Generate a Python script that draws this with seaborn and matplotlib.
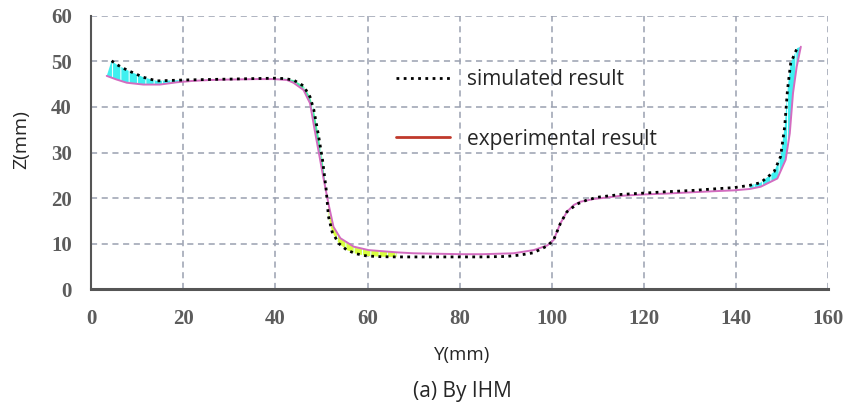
import numpy as np
import pandas as pd
import seaborn as sns
import matplotlib.pyplot as plt

# simulated result (black dotted)
sim_y = [4.4, 5.5, 7.7, 9.5, 11.3, 14.2, 17, 20, 25, 30, 35, 40, 42, 43.9, 46.1, 47.5, 48.3, 49.3,
         50.2, 51.0, 51.5, 52.3, 53.7, 55.5, 57.5, 59.9, 63, 66.4, 70, 75, 80, 85, 90, 93, 96, 99,
         100.4, 101.9, 103.3, 105.5, 107.7, 110, 115, 120, 125, 130.9, 135, 139.6, 143, 145.4,
         148.3, 149.7, 150.6, 151.2, 151.9, 153.3]
sim_z = [50.1, 49.3, 48.1, 47.3, 46.5, 45.7, 45.8, 45.9, 46.0, 46.1, 46.2, 46.3, 46.2, 45.9, 44.6,
         42.2, 39.5, 34.0, 28.5, 22.0, 16.0, 12.6, 10.1, 8.6, 7.8, 7.3, 7.15, 7.1, 7.1, 7.1, 7.1,
         7.1, 7.2, 7.5, 8.0, 9.5, 10.8, 14.5, 17.0, 18.7, 19.6, 20.2, 20.8, 21.1, 21.4, 21.7, 22.0,
         22.3, 22.8, 23.4, 25.8, 29.1, 35.7, 43.7, 49.6, 52.9]

# experimental result (pink line)
exp_y = [3.35, 5.5, 7.7, 11.3, 14.9, 18.6, 22, 25.8, 30, 33.1, 36, 39.6, 42.5, 43.9, 46.1, 47.5,
         48.5, 49.5, 50.4, 51.5, 52.6, 54.1, 57.0, 60.2, 66.4, 70, 75, 80.2, 85, 91.7, 96.1, 99.0,
         100.4, 101.9, 103.3, 104.8, 106.2, 109.1, 115, 120, 125, 130.9, 135, 139.6, 143, 145.4,
         149.0, 150.8, 151.7, 152.4, 153.2, 154.1]
exp_z = [46.8, 46.0, 45.3, 44.9, 44.9, 45.4, 45.7, 45.9, 46.0, 46.05, 46.1, 46.1, 45.9, 45.3, 43.7,
         40.8, 35.0, 29.5, 24.5, 18.8, 13.7, 11.2, 9.35, 8.6, 8.1, 7.9, 7.8, 7.7, 7.7, 7.9, 8.6, 9.6,
         10.8, 14.5, 17.0, 18.5, 19.2, 19.8, 20.5, 20.8, 21.0, 21.3, 21.5, 21.7, 22.0, 22.5, 24.3,
         28.4, 34.2, 43.0, 48.8, 53.2]

# shaded gaps between the two curves: (from Y, to Y, colour)
gaps = [(0, 22, "#3ff0f0"), (40, 51.2, "#40f0a0"), (51.2, 68, "#d8ff40"), (140, 160, "#3ff0f0")]

sim = pd.DataFrame({"Y": sim_y, "Z": sim_z})
exp = pd.DataFrame({"Y": exp_y, "Z": exp_z})

sns.set_style("white")
plt.rcParams["hatch.linewidth"] = 0.8

fig = plt.figure(figsize=(8.59, 4.11), dpi=100)
ax = fig.add_axes([0.1063, 0.2961, 0.8576, 0.6657])

for lo, hi, col in gaps:
    s = sim[(sim.Y >= lo) & (sim.Y < hi)]
    e = exp[(exp.Y >= lo) & (exp.Y < hi)]
    px = np.concatenate([s.Y.values, e.Y.values[::-1]])
    py = np.concatenate([s.Z.values, e.Z.values[::-1]])
    ax.fill(px, py, facecolor=col, edgecolor="#e8ffff", hatch="||", linewidth=0.01, zorder=2)

sns.lineplot(data=exp, x="Y", y="Z", ax=ax, color="#d36cc0", linewidth=1.4,
             estimator=None, label="experimental result", zorder=3)
sns.lineplot(data=sim, x="Y", y="Z", ax=ax, color="black", linewidth=2.0,
             linestyle=(0, (1, 1.6)), estimator=None, label="simulated result", zorder=4)

ax.set_xlim(0, 160)
ax.set_ylim(0, 60)
ax.set_xticks(np.arange(0, 161, 20))
ax.set_yticks(np.arange(0, 61, 10))
ax.grid(True, color="#9aa0b0", linestyle=(0, (4, 3)), linewidth=1.1)
for s in ["top", "right"]:
    ax.spines[s].set_visible(False)
for s in ["left", "bottom"]:
    ax.spines[s].set_color("#555555")
ax.spines["left"].set_linewidth(1.5)
ax.spines["bottom"].set_linewidth(2.2)
ax.tick_params(length=0, pad=14)
for t in ax.get_xticklabels() + ax.get_yticklabels():
    t.set_fontfamily("Liberation Serif")
    t.set_fontweight("bold")
    t.set_fontsize(15)
    t.set_color("#5c5c5c")
ax.set_xlabel("")
ax.set_ylabel("")

h, l = ax.get_legend_handles_labels()
leg = ax.legend([h[1], h[0]], [l[1], l[0]], loc="upper left", bbox_to_anchor=(0.414, 0.805),
                frameon=False, prop={"family": "Open Sans", "size": 15}, borderpad=0,
                borderaxespad=0, handlelength=2.6, handletextpad=0.8, labelspacing=1.85)
leg.legend_handles[1].set_color("#c0392b")
leg.legend_handles[1].set_linewidth(2.0)

fig.text(21.7 / 859, 1 - 140 / 411, "Z(mm)", rotation=90, ha="center", va="center",
         fontsize=14, family="Open Sans")
fig.text(462 / 859, 1 - 355 / 411, "Y(mm)", ha="center", va="center", fontsize=13.5, family="Open Sans")
fig.text(462 / 859, 1 - 391 / 411, "(a) By IHM", ha="center", va="center", fontsize=15,
         family="Open Sans")

fig.savefig("out.png", dpi=100)
